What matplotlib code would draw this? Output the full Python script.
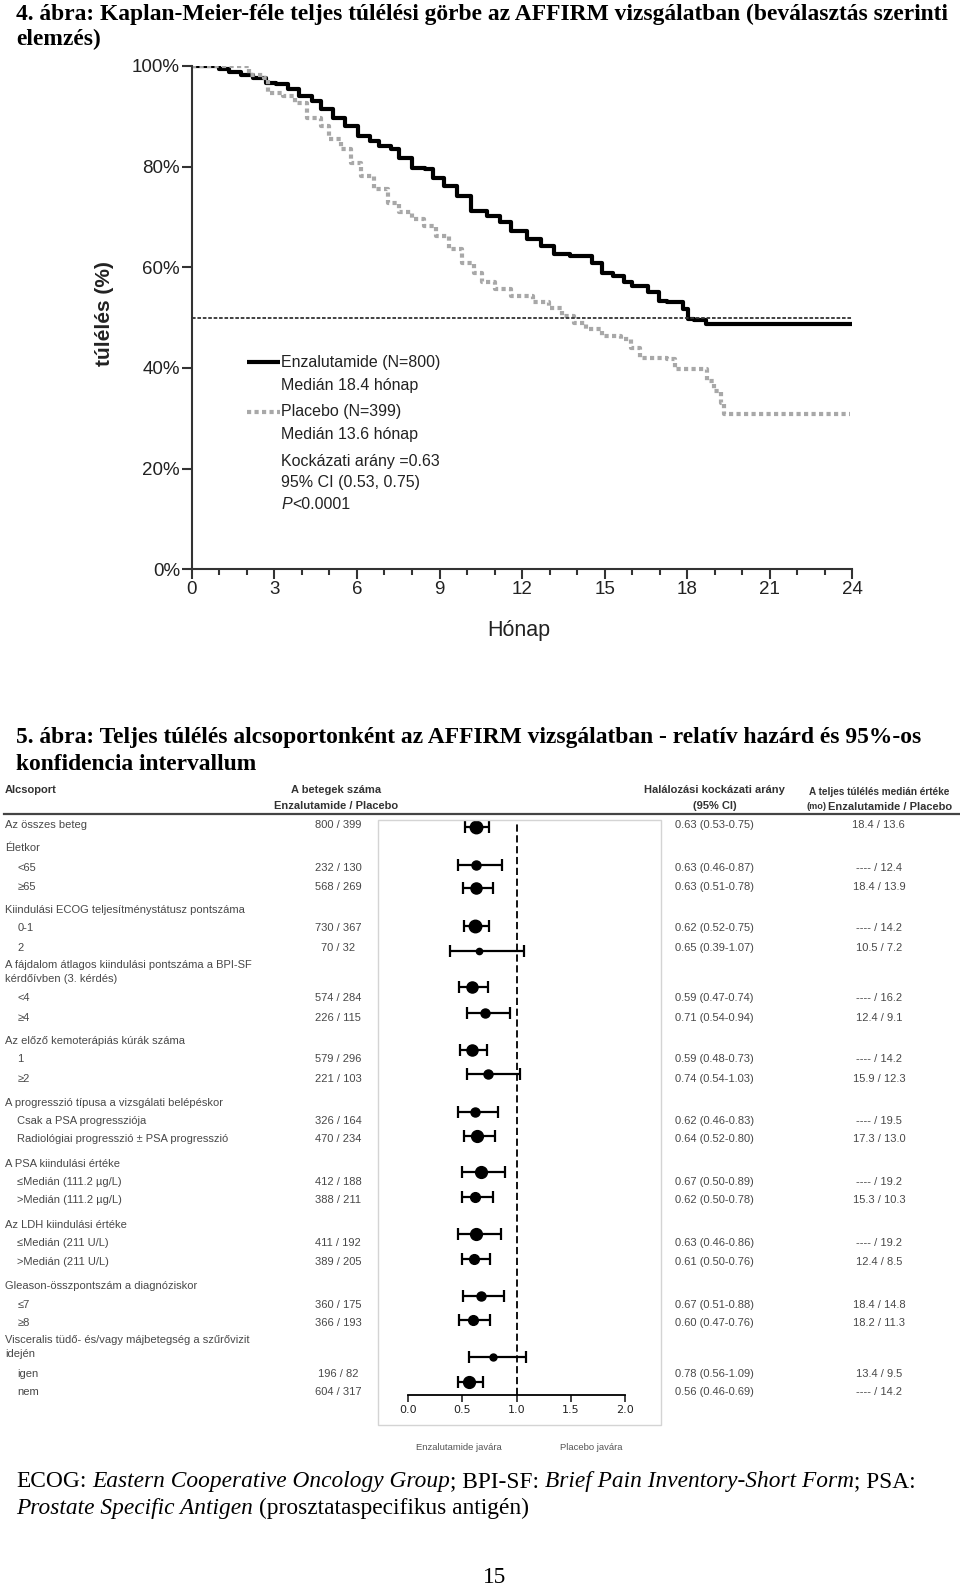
import matplotlib
matplotlib.use("Agg")
import matplotlib.pyplot as plt
from matplotlib.patches import Rectangle

# ---- Kaplan-Meier data (months, survival %) ----
enza_t = [0, 0.98, 1.34, 1.78, 2.24, 2.69, 3.07, 3.51, 3.9, 4.36, 4.68, 5.12, 5.56, 6.03,
          6.48, 6.79, 7.22, 7.51, 8.0, 8.48, 8.78, 9.17, 9.65, 10.14, 10.73, 11.21, 11.6,
          12.19, 12.68, 13.16, 13.75, 14.53, 14.92, 15.31, 15.7, 15.99, 16.58, 16.97, 17.26,
          17.84, 18.04, 18.23, 18.67, 24.0]
enza_s = [100, 99.3, 98.8, 98.3, 97.7, 96.6, 96.4, 95.4, 94.0, 93.0, 91.4, 89.7, 88.1, 86.1,
          85.1, 84.1, 83.4, 81.8, 79.8, 79.5, 77.8, 76.2, 74.2, 71.2, 70.2, 68.9, 67.2,
          65.6, 64.2, 62.6, 62.3, 60.9, 58.9, 58.3, 57.0, 56.3, 55.0, 53.3, 53.1,
          51.7, 49.7, 49.5, 48.7, 48.7]
plac_t = [0, 2.09, 2.63, 2.77, 3.32, 3.75, 4.19, 4.68, 4.97, 5.42, 5.8, 6.14, 6.63, 7.12,
          7.51, 8.0, 8.44, 8.87, 9.36, 9.81, 10.24, 10.53, 11.02, 11.6, 12.38, 12.97, 13.46,
          13.89, 14.33, 14.92, 15.6, 15.94, 16.28, 17.26, 17.55, 18.72, 18.96, 19.21, 19.35, 23.9]
plac_s = [100, 98.3, 97.7, 94.7, 94.0, 92.7, 89.7, 88.1, 85.4, 83.4, 80.8, 78.1, 75.5, 72.8,
          70.9, 69.5, 68.2, 66.2, 63.6, 60.9, 58.9, 57.0, 55.6, 54.3, 53.0, 52.0, 50.3,
          49.0, 47.7, 46.4, 45.7, 44.0, 42.0, 41.7, 39.7, 37.4, 35.4, 33.1, 30.8, 30.8]

# ---- forest plot data ----
subgroup_labels = [
    "Az összes beteg", "Életkor", "<65", "≥65",
    "Kiindulási ECOG teljesítménystátusz pontszáma", "0-1", "2",
    "A fájdalom átlagos kiindulási pontszáma a BPI-SF\nkérdőívben (3. kérdés)", "<4", "≥4",
    "Az előző kemoterápiás kúrák száma", "1", "≥2",
    "A progresszió típusa a vizsgálati belépéskor", "Csak a PSA progressziója",
    "Radiológiai progresszió ± PSA progresszió",
    "A PSA kiindulási értéke", "≤Medián (111.2 µg/L)", ">Medián (111.2 µg/L)",
    "Az LDH kiindulási értéke", "≤Medián (211 U/L)", ">Medián (211 U/L)",
    "Gleason-összpontszám a diagnóziskor", "≤7", "≥8",
    "Visceralis tüdő- és/vagy májbetegség a szűrővizit\nidején", "igen", "nem",
]
indent = [0, 0, 1, 1, 0, 1, 1, 0, 1, 1, 0, 1, 1, 0, 1, 1, 0, 1, 1, 0, 1, 1, 0, 1, 1, 0, 1, 1]
patients = ["800 / 399", None, "232 / 130", "568 / 269", None, "730 / 367", "70 / 32",
            None, "574 / 284", "226 / 115", None, "579 / 296", "221 / 103",
            None, "326 / 164", "470 / 234", None, "412 / 188", "388 / 211",
            None, "411 / 192", "389 / 205", None, "360 / 175", "366 / 193",
            None, "196 / 82", "604 / 317"]
hr = [0.63, 0.63, 0.63, 0.62, 0.65, 0.59, 0.71, 0.59, 0.74, 0.62,
      0.64, 0.67, 0.62, 0.63, 0.61, 0.67, 0.60, 0.78, 0.56]
ci_lo = [0.53, 0.46, 0.51, 0.52, 0.39, 0.47, 0.54, 0.48, 0.54, 0.46,
         0.52, 0.50, 0.50, 0.46, 0.50, 0.51, 0.47, 0.56, 0.46]
ci_hi = [0.75, 0.87, 0.78, 0.75, 1.07, 0.74, 0.94, 0.73, 1.03, 0.83,
         0.80, 0.89, 0.78, 0.86, 0.76, 0.88, 0.76, 1.09, 0.69]
median_os = ["18.4 / 13.6", "---- / 12.4", "18.4 / 13.9", "---- / 14.2", "10.5 / 7.2",
             "---- / 16.2", "12.4 / 9.1", "---- / 14.2", "15.9 / 12.3", "---- / 19.5",
             "17.3 / 13.0", "---- / 19.2", "15.3 / 10.3", "---- / 19.2", "12.4 / 8.5",
             "18.4 / 14.8", "18.2 / 11.3", "13.4 / 9.5", "---- / 14.2"]

# ---- layout (page pixel coordinates) ----
W, H = 946, 1566
label_y = [813, 836, 855, 874, 897, 915, 934, 958, 984, 1003, 1026, 1044, 1063, 1087, 1105,
           1123, 1147, 1165, 1183, 1207, 1225, 1244, 1267, 1286, 1304, 1327.5, 1354, 1372]
marker_y = [815, 852, 875, 913, 937, 973, 998, 1035, 1058, 1096, 1120, 1155, 1180, 1216,
            1241, 1277, 1301, 1337, 1362]
marker_size = [9, 6.5, 8, 9, 4.5, 8, 6.5, 8, 6.5, 6.5, 8.5, 8.5, 7, 8.5, 7, 6.5, 7, 5, 8.5]

SERIF = "Liberation Serif"
SANS = "Liberation Sans"


def rect(x0, y0, x1, y1):
    return [x0 / W, 1 - y1 / H, (x1 - x0) / W, (y1 - y0) / H]


fig = plt.figure(figsize=(9.6, 15.89), dpi=100)
fig.patch.set_facecolor("white")

# ================= Kaplan-Meier =================
km = fig.add_axes(rect(189, 65, 840, 561))
km.step(enza_t, enza_s, where="post", color="black", lw=3)
km.step(plac_t, plac_s, where="post", color="#a8a8a8", lw=3, linestyle=(0, (1.0, 0.8)))
km.axhline(50, color="#333333", lw=1.3, linestyle=(0, (2, 1)))
km.set_xlim(0, 24)
km.set_ylim(0, 100)
km.set_xticks(range(0, 25, 3))
km.set_xticks(range(0, 25), minor=True)
km.set_yticks(range(0, 101, 20))
km.set_yticklabels([f"{v}%" for v in range(0, 101, 20)])
for s in ["top", "right"]:
    km.spines[s].set_visible(False)
for s in ["left", "bottom"]:
    km.spines[s].set_linewidth(1.5)
    km.spines[s].set_color("#333333")
km.tick_params(which="major", length=7, width=1.5, color="#333333", labelsize=13.5,
               labelcolor="#222222", pad=1.5)
km.tick_params(which="minor", length=4, width=1.5, color="#333333")
for lab in km.get_xticklabels() + km.get_yticklabels():
    lab.set_family(SANS)
km.patch.set_alpha(0)

# ================= forest plot axis =================
fa = fig.add_axes(rect(402, 808, 616, 1375))
fa.set_xlim(0, 2)
fa.set_ylim(1375, 808)
for s in ["top", "right", "left"]:
    fa.spines[s].set_visible(False)
fa.spines["bottom"].set_linewidth(1.3)
fa.set_yticks([])
fa.set_xticks([0, 0.5, 1.0, 1.5, 2.0])
fa.set_xticklabels(["0.0", "0.5", "1.0", "1.5", "2.0"])
fa.tick_params(axis="x", length=5, width=1.2, labelsize=8, pad=2, colors="#222222")
fa.axvline(1.0, color="black", lw=1.3, linestyle=(0, (4, 2)))
for h, lo, hi, y, ms in zip(hr, ci_lo, ci_hi, marker_y, marker_size):
    fa.errorbar([h], [y], xerr=[[h - lo], [hi - h]], fmt="o", color="black",
                markersize=ms, elinewidth=1.6, capsize=4.5, capthick=1.6)
fa.patch.set_alpha(0)

# ================= overlay for text =================
ov = fig.add_axes([0, 0, 1, 1])
ov.set_xlim(0, W)
ov.set_ylim(H, 0)
ov.axis("off")
ov.patch.set_alpha(0)
ov.set_zorder(10)

TITLE = 16.9
ov.text(16, 14, "4. ábra: Kaplan-Meier-féle teljes túlélési görbe az AFFIRM vizsgálatban (beválasztás szerinti",
        family=SERIF, weight="bold", fontsize=TITLE, va="center")
ov.text(16, 39, "elemzés)", family=SERIF, weight="bold", fontsize=TITLE, va="center")

ov.text(103, 309, "túlélés (%)", family=SANS, weight="bold", fontsize=15, rotation=90,
        ha="center", va="center", color="#222222")
ov.text(511, 621, "Hónap", family=SANS, fontsize=15.5, ha="center", va="center", color="#222222")

# KM legend
ov.plot([243, 276], [357, 357], color="black", lw=3, solid_capstyle="butt")
ov.plot([243, 276], [406, 406], color="#a8a8a8", lw=3, linestyle=(0, (1.0, 0.8)))
LEG = 11.5
leg_lines = [(357, "Enzalutamide (N=800)"), (380, "Medián 18.4 hónap"),
             (406, "Placebo (N=399)"), (428, "Medián 13.6 hónap"),
             (455, "Kockázati arány =0.63"), (476, "95% CI (0.53, 0.75)")]
for y, t in leg_lines:
    ov.text(277, y, t, family=SANS, fontsize=LEG, va="center", color="#222222")
ov.text(277, 497, "P", family=SANS, fontsize=LEG, style="italic", va="center", color="#222222")
ov.text(288, 497, "<0.0001", family=SANS, fontsize=LEG, va="center", color="#222222")

# second title
ov.text(16, 727, "5. ábra: Teljes túlélés alcsoportonként az AFFIRM vizsgálatban - relatív hazárd és 95%-os",
        family=SERIF, weight="bold", fontsize=TITLE, va="center")
ov.text(16, 753, "konfidencia intervallum", family=SERIF, weight="bold", fontsize=TITLE, va="center")

# table header
hdr = dict(family=SANS, weight="bold", fontsize=8.0, va="center", color="#333333")
ov.text(5, 779, "Alcsoport", **hdr)
ov.text(331, 779, "A betegek száma", ha="center", **hdr)
ov.text(331, 794, "Enzalutamide / Placebo", ha="center", **hdr)
ov.text(704, 779, "Halálozási kockázati arány", ha="center", **hdr)
ov.text(704, 794, "(95% CI)", ha="center", **hdr)
ov.text(866, 781, "A teljes túlélés medián értéke", ha="center",
        **{**hdr, "fontsize": 7.2})
ov.text(814, 795, "(mo)", ha="right", **{**hdr, "fontsize": 6.6})
ov.text(816, 795, "Enzalutamide / Placebo", ha="left", **hdr)
ov.plot([4, 945], [802, 802], color="#444444", lw=1.6)

# forest frame
ov.add_patch(Rectangle((372, 808), 279, 596, fill=False, ec="#d4d4d4", lw=1))

body = dict(family=SANS, fontsize=8.0, va="center", color="#484848")
k = 0
for lab, ind, n, y in zip(subgroup_labels, indent, patients, label_y):
    ov.text(5 + 12 * ind, y, lab, linespacing=1.4, **body)
    if n is not None:
        ov.text(333, y, n, ha="center", **body)
        ov.text(665, y, f"{hr[k]:.2f} ({ci_lo[k]:.2f}-{ci_hi[k]:.2f})", ha="left", **body)
        ov.text(866, y, median_os[k], ha="center", **body)
        k += 1

ov.text(452, 1427, "Enzalutamide javára", family=SANS, fontsize=6.8, ha="center",
        va="center", color="#555555")
ov.text(583, 1427, "Placebo javára", family=SANS, fontsize=6.8, ha="center",
        va="center", color="#555555")

# footnote with italic parts
renderer = fig.canvas.get_renderer()
scale = W / 960.0
FOOT = 16.8


def text_w(s, style):
    t = ov.text(0, 0, s, family=SERIF, fontsize=FOOT, style=style)
    w = t.get_window_extent(renderer).width * scale
    t.remove()
    return w


space_w = text_w("x x", "normal") - text_w("xx", "normal")
foot_lines = [
    (1460, [("ECOG:", "normal"), (" ", None), ("Eastern Cooperative Oncology Group", "italic"),
            ("; BPI-SF:", "normal"), (" ", None), ("Brief Pain Inventory-Short Form", "italic"),
            ("; PSA:", "normal")]),
    (1487, [("Prostate Specific Antigen", "italic"), (" ", None),
            ("(prosztataspecifikus antigén)", "normal")]),
]
for y, parts in foot_lines:
    x = 16
    for s, st in parts:
        if st is None:
            x += space_w
            continue
        t = ov.text(x, y, s, family=SERIF, fontsize=FOOT, style=st, va="center")
        x += t.get_window_extent(renderer).width * scale

ov.text(487, 1555, "15", family=SERIF, fontsize=FOOT, ha="center", va="center")

fig.savefig("out.png", dpi=100, facecolor="white")
